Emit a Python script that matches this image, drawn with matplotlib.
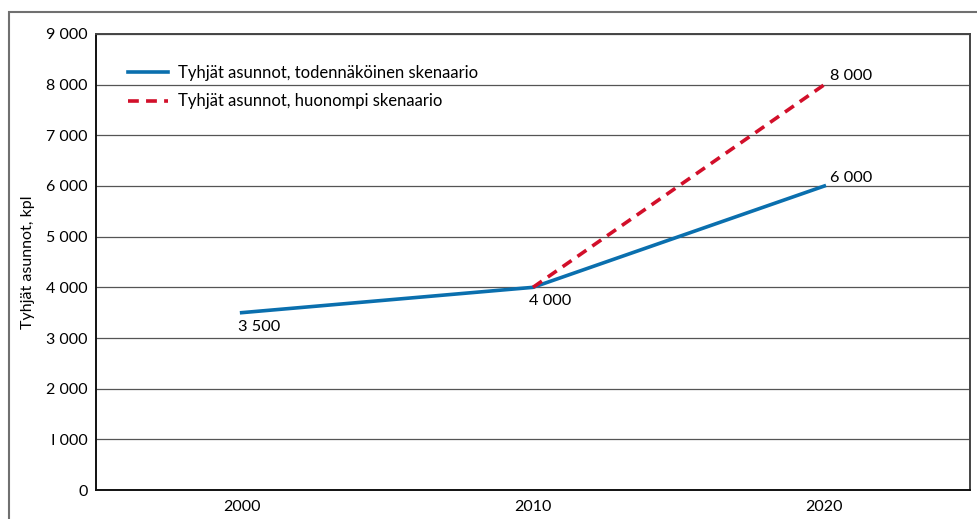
import matplotlib
matplotlib.use("Agg")
from matplotlib import pyplot as plt
from matplotlib.patches import Rectangle
from matplotlib.ticker import FuncFormatter

years = ["2000", "2010", "2020"]
likely_values = [3500, 4000, 6000]
worse_years = ["2010", "2020"]
worse_values = [4000, 8000]
y_ticks = [0, 1000, 2000, 3000, 4000, 5000, 6000, 7000, 8000, 9000]

blue = "#0a6fae"
red = "#d20f2a"

plt.rcParams["font.family"] = ["Lato", "DejaVu Sans"]

fig = plt.figure(figsize=(9.77, 5.19), dpi=100)
ax = fig.add_axes([96 / 977, 1 - 490 / 519, (970 - 96) / 977, (490 - 34) / 519])

# outer frame round the figure
fig.patches.append(Rectangle((9 / 977, -0.1), 1.1, 0.1 + 1 - 12 / 519,
                             transform=fig.transFigure, fill=False,
                             edgecolor="#707070", linewidth=1.5))

x_pos = {y: i for i, y in enumerate(years)}
ax.plot([x_pos[y] for y in years], likely_values, color=blue, linewidth=2.6,
        label="Tyhjät asunnot, todennäköinen skenaario", zorder=3)
ax.plot([x_pos[y] for y in worse_years], worse_values, color=red, linewidth=2.6,
        linestyle=(0, (3, 2)), label="Tyhjät asunnot, huonompi skenaario", zorder=4)

fmt = lambda v: f"{int(v):,}".replace(",", " ")

# data labels
for i, v in enumerate(likely_values):
    if i < 2:
        ax.annotate(fmt(v), (i, v), xytext=(-3, -5), textcoords="offset points",
                    ha="left", va="top", fontsize=11.8)
    else:
        ax.annotate(fmt(v), (i, v), xytext=(4, 1), textcoords="offset points",
                    ha="left", va="bottom", fontsize=11.8)
ax.annotate(fmt(worse_values[-1]), (x_pos[worse_years[-1]], worse_values[-1]),
            xytext=(4, 1), textcoords="offset points", ha="left", va="bottom",
            fontsize=11.8)

ax.set_xlim(-0.5, 2.5)
ax.set_ylim(0, 9000)
ax.set_xticks(range(len(years)))
ax.set_xticklabels(years)
ax.set_yticks(y_ticks)
ax.yaxis.set_major_formatter(FuncFormatter(lambda v, p: fmt(v).replace("1", "I")))
ax.tick_params(length=0, labelsize=11.5, pad=7)
ax.tick_params(axis="y", pad=6)
ax.grid(axis="y", color="#555555", linewidth=0.9)
ax.set_axisbelow(True)

for side in ["left", "bottom"]:
    ax.spines[side].set_color("#111111")
    ax.spines[side].set_linewidth(1.4)
for side in ["top", "right"]:
    ax.spines[side].set_color("#444444")
    ax.spines[side].set_linewidth(1.4)

ax.set_ylabel("Tyhjät asunnot, kpl", fontsize=11.5, labelpad=8)

ax.legend(loc="upper left", bbox_to_anchor=(0.02, 0.965), frameon=False,
          fontsize=12, handlelength=2.4, handletextpad=0.6, labelspacing=0.75)

fig.savefig("out.png", dpi=100)
